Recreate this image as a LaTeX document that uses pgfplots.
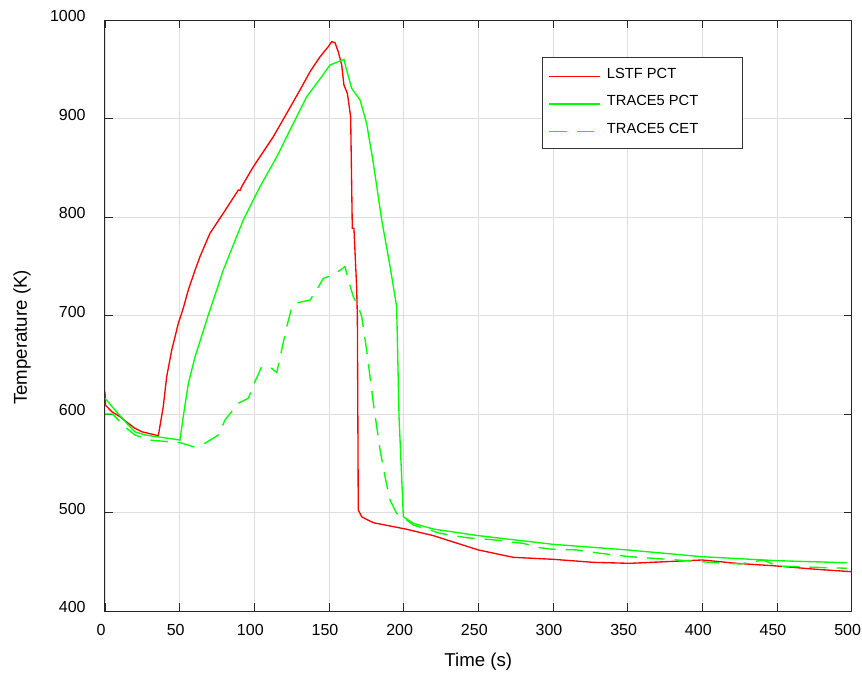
\documentclass[border=0pt]{standalone}
\usepackage{fontspec}
\setmainfont{Liberation Sans}
\usepackage{pgfplots}
\pgfplotsset{compat=1.18}

\definecolor{pctred}{RGB}{255,0,0}
\definecolor{pctgreen}{RGB}{0,255,0}

\begin{document}
\begin{tikzpicture}
\begin{axis}[
    scale only axis,
    width=560pt, height=443.25pt,
    xmin=0, xmax=500, ymin=400, ymax=1000,
    xtick={0,50,...,500}, ytick={400,500,...,1000},
    /pgf/number format/1000 sep={},
    /pgf/number format/assume math mode=true,
    font=\fontsize{12}{14}\selectfont,
    tick align=inside, major tick length=6pt,
    tick style={black!85, line width=0.6pt},
    axis line style={black!85, line width=0.75pt},
    grid=major, grid style={black!13, line width=0.6pt},
    xticklabel style={yshift=-6.5pt, xshift=-3pt},
    yticklabel style={xshift=-11pt, yshift=3pt},
    xlabel={Time (s)}, ylabel={Temperature (K)},
    xlabel style={at={(axis description cs:0.5,-0.0863)}, anchor=center, font=\fontsize{14}{16}\selectfont},
    ylabel style={at={(axis description cs:-0.1112,0.4628)}, anchor=center, font=\fontsize{14}{16}\selectfont},
    legend cell align=left,
    legend image code/.code={\draw[#1, line width=1pt] (0pt,-1pt) -- (38pt,-1pt); \path (40.5pt,0pt);},
    legend style={at={(0.585,0.938)}, anchor=north west, draw=black!80, line width=0.75pt,
        fill=white, font=\fontsize{11}{13}\selectfont,
        inner xsep=4.75pt, inner ysep=8pt, row sep=9.6pt,
        nodes={inner xsep=2.25pt, inner ysep=0pt, text height=8pt, text depth=3pt}},
]

% LSTF PCT
\addplot[pctred, line width=1pt] coordinates {
(0,622.6) (0.3,609) (4.5,602.4) (10,597.3) (15.6,590.5) (20,585.5) (24.6,582)
(35.7,578) (39,607.4) (41.3,637.9) (44.7,665) (49.1,692) (52.4,707.3) (55.8,726)
(60.3,746) (63.6,759.7) (70.3,783.5) (79.2,803.8) (89.3,827.4) (90.5,827) (91.5,830.8)
(99.3,851) (112.7,881.5) (121.7,905.3) (130.6,929) (137.3,947.5) (144,962.7)
(149.5,972.9) (151.8,978) (154,977) (156.2,967.8) (158.5,954.3) (160,934)
(162.3,925.5) (164.5,901.8) (165.6,788.5) (166.7,788.5) (168.5,729) (169,698)
(169.6,502.5) (171.9,495.7) (175.2,493) (179.7,489.7) (188.6,487) (202,483)
(219.9,476.5) (250,462) (273.4,454.5) (300,452.5) (327,449.4) (351.6,448.4)
(400,451.8) (423,448.4) (449.8,445.7) (476.6,442.3) (500,439.9)
};
\addlegendentry{\makebox[94.8pt][l]{LSTF PCT}}

% TRACE5 PCT
\addplot[pctgreen, line width=1pt] coordinates {
(0,616) (6.7,604) (15.6,588.8) (20,582) (26.8,578.7) (50.2,573.6) (52.4,597.3)
(55.8,631) (60.3,658) (68.1,695.4) (79.2,746.2) (92.6,797) (103.8,830.8) (115,861)
(126.1,895) (135,922) (141.8,935.7) (150.7,954.3) (156.2,957.7) (160,960)
(161.8,949.2) (165.2,930.6) (170.8,918.8) (175.2,895) (179.7,854.5) (185.3,797)
(190.9,749.6) (195.3,709) (196.9,597.3) (199.8,495.7) (206.5,489) (219.9,483.2)
(250,476.5) (300,467.7) (349.8,462) (400,455.1) (449.8,451.1) (496.7,449)
};
\addlegendentry{\makebox[94.8pt][l]{TRACE5 PCT}}

% TRACE5 CET
\addplot[pctgreen, line width=1pt, dash pattern=on 13pt off 7.5pt] coordinates {
(0,600) (5,600) (6.7,597.3) (14.5,585.5) (20,578.7) (30,573.6) (41.3,572) (50.2,571)
(59.1,566.8) (67,570.3) (75.9,578.7) (80.4,594) (84.8,602.4) (89.3,610.9) (96,616)
(100.4,632.8) (104.9,648) (111.6,646.4) (115,642) (118.3,665) (121.7,688.6)
(124.6,705.6) (127.2,712.4) (137.3,715.7) (141.8,726) (146.2,737.8) (152.9,741.1)
(160.7,749.6) (163,736) (166.3,719) (169.7,709) (171.9,698.8) (175.2,665)
(179.7,610.9) (184.2,563.5) (187.5,536.3) (190.9,512.7) (195.3,499) (202,492.4)
(206.5,487.3) (224.3,478.9) (242.2,474.4) (262.3,472) (273.4,469.7) (280,468.7)
(291.2,464.3) (297.9,462.9) (315.8,462) (331.5,458.6) (351.6,455.1) (367.2,453.5)
(389.5,451.1) (409.6,449) (425.2,447.7) (440.8,451.8) (449.8,445.7) (474.3,444.4)
(496.7,443.4)
};
\addlegendentry{\makebox[94.8pt][l]{TRACE5 CET}}

\end{axis}
\pgfresetboundingbox
\path[use as bounding box] (-78.75pt,-48pt) rectangle (567.75pt,458.25pt);
\end{tikzpicture}
\end{document}
